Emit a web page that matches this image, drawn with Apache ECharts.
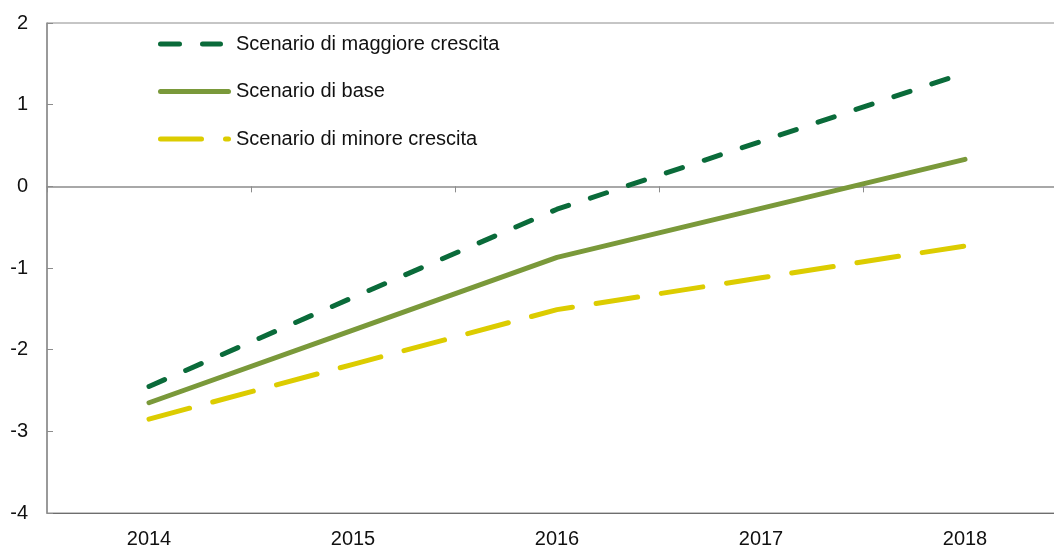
<!DOCTYPE html>
<html>
<head>
<meta charset="utf-8">
<script src="https://cdn.jsdelivr.net/npm/echarts@6/dist/echarts.min.js"></script>
<style>
  html, body { margin: 0; padding: 0; background: #fff; overflow: hidden; }
  /* the plot runs a little past the right edge of the window, as in the source */
  #chart { width: 1067px; height: 549px; }
</style>
</head>
<body>
<div id="chart"></div>
<script>
// values
var years = ["2014", "2015", "2016", "2017", "2018"];
var highGrowth = [-2.45, -1.36, -0.28, 0.55, 1.39];
var baseCase = [-2.65, -1.76, -0.87, -0.27, 0.33];
var lowGrowth = [-2.85, -2.18, -1.51, -1.12, -0.73];

var font = "Liberation Sans";

// legend icons, 73 x 5 box with rounded ends
var dashIcon = "path://M2.5,0h19a2.5,2.5 0 0 1 0,5h-19a2.5,2.5 0 0 1 0,-5z" +
  "M44.5,0h18a2.5,2.5 0 0 1 0,5h-18a2.5,2.5 0 0 1 0,-5z M72.99,2.5h0.01v0.01h-0.01z";
var solidIcon = "path://M2.5,0h68a2.5,2.5 0 0 1 0,5h-68a2.5,2.5 0 0 1 0,-5z";
var longDashIcon = "path://M2.5,0h41a2.5,2.5 0 0 1 0,5h-41a2.5,2.5 0 0 1 0,-5z" +
  "M67.5,0h3a2.5,2.5 0 0 1 0,5h-3a2.5,2.5 0 0 1 0,-5z";

var chart = echarts.init(document.getElementById("chart"));
chart.setOption({
  animation: false,
  textStyle: { fontFamily: font },
  grid: {
    left: 47, top: 23, right: 0, height: 493,
    show: true, borderColor: "#8c8c8c", borderWidth: 1
  },
  legend: {
    orient: "vertical", left: 158, top: 34, padding: 0,
    itemWidth: 73, itemHeight: 5, itemGap: 27.5,
    symbolKeepAspect: true,
    textStyle: { fontFamily: font, fontSize: 20, color: "#111" },
    data: [
      { name: "Scenario di maggiore crescita", icon: dashIcon },
      { name: "Scenario di base", icon: solidIcon },
      { name: "Scenario di minore crescita", icon: longDashIcon }
    ]
  },
  xAxis: [
    {
      type: "category", data: years, position: "bottom",
      axisLine: { onZero: false, lineStyle: { color: "#6e6e6e" } },
      axisTick: { show: false },
      axisLabel: { fontFamily: font, fontSize: 20, color: "#111", margin: 16 }
    },
    {
      type: "category", data: years, position: "top",
      axisLine: { onZero: true, lineStyle: { color: "#8c8c8c", width: 1.5 } },
      axisTick: { show: true, inside: true, length: 6, lineStyle: { color: "#8c8c8c" } },
      axisLabel: { show: false }
    }
  ],
  yAxis: {
    type: "value", min: -4, max: 2, interval: 1,
    axisLine: { show: true, onZero: false, lineStyle: { color: "#8c8c8c", width: 1.5 } },
    axisTick: { show: true, inside: true, length: 6, lineStyle: { color: "#8c8c8c" } },
    splitLine: { show: false },
    axisLabel: { fontFamily: font, fontSize: 20, color: "#111", margin: 19 }
  },
  series: [
    {
      name: "Scenario di maggiore crescita", type: "line", data: highGrowth,
      symbol: "none", color: "#0a6b3a",
      lineStyle: { width: 5, color: "#0a6b3a", type: [17, 23], cap: "round" }
    },
    {
      name: "Scenario di base", type: "line", data: baseCase,
      symbol: "none", color: "#7a993a",
      lineStyle: { width: 5, color: "#7a993a", cap: "round" }
    },
    {
      name: "Scenario di minore crescita", type: "line", data: lowGrowth,
      symbol: "none", color: "#dccc00",
      lineStyle: { width: 5, color: "#dccc00", type: [42, 24], cap: "round" }
    }
  ]
});
</script>
</body>
</html>
